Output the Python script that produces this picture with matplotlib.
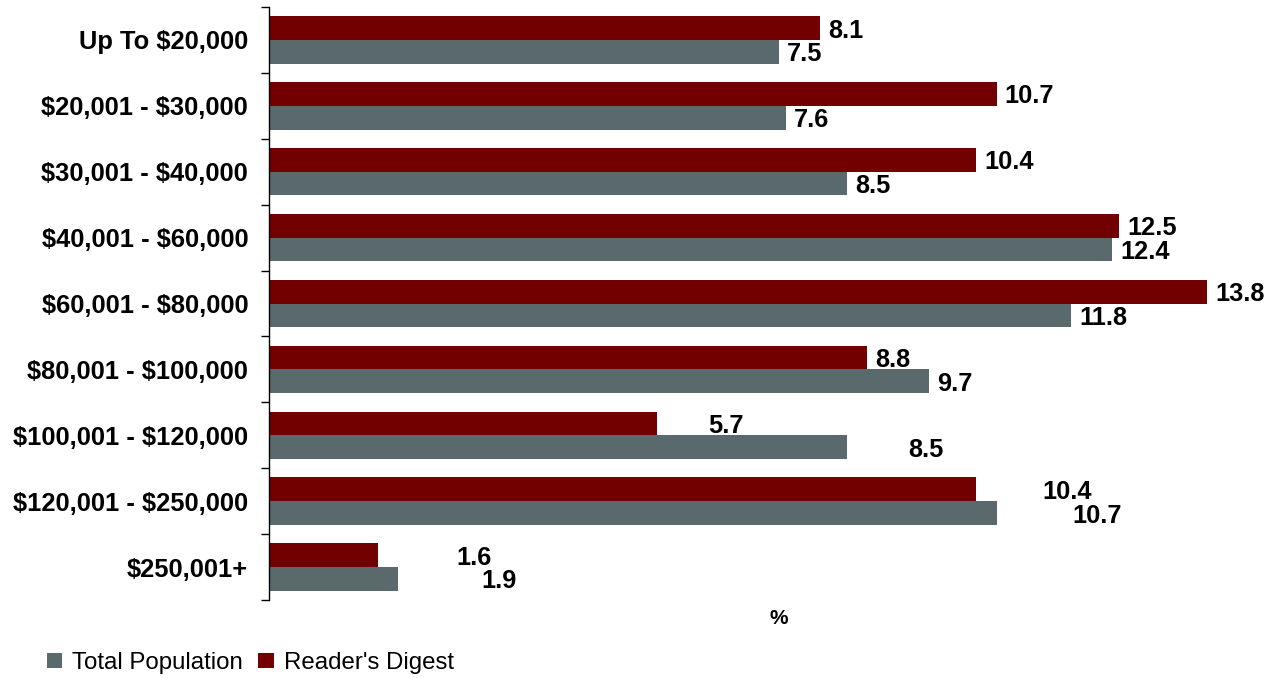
import matplotlib
matplotlib.use('Agg')
import matplotlib.pyplot as plt
import numpy as np

# income bands, top to bottom
categories = [
    "Up To $20,000", "$20,001 - $30,000", "$30,001 - $40,000",
    "$40,001 - $60,000", "$60,001 - $80,000", "$80,001 - $100,000",
    "$100,001 - $120,000", "$120,001 - $250,000", "$250,001+",
]
readers_digest = [8.1, 10.7, 10.4, 12.5, 13.8, 8.8, 5.7, 10.4, 1.6]
total_population = [7.5, 7.6, 8.5, 12.4, 11.8, 9.7, 8.5, 10.7, 1.9]

# gap between bar end and its value label (data units); the bottom rows
# have their labels pushed out further in the original
rd_label_gap = [0.12, 0.12, 0.12, 0.12, 0.12, 0.12, 0.76, 0.98, 1.15]
tp_label_gap = [0.12, 0.12, 0.12, 0.12, 0.12, 0.12, 0.90, 1.11, 1.22]

RED = '#730000'
GREY = '#5A696C'

plt.rcParams['font.family'] = ['Liberation Sans', 'DejaVu Sans']

fig = plt.figure(figsize=(12.83, 6.78), dpi=100)
ax = fig.add_axes([269 / 1283, 1 - 600 / 678, 1003 / 1283, 593 / 678])

y = np.arange(len(categories))
h = 0.36
ax.barh(y - h / 2, readers_digest, height=h, color=RED, label="Reader's Digest")
ax.barh(y + h / 2, total_population, height=h, color=GREY, label='Total Population')

for i in range(len(categories)):
    ax.text(readers_digest[i] + rd_label_gap[i], y[i] - h / 2, f'{readers_digest[i]:.1f}',
            va='center_baseline', ha='left', fontsize=18.3, fontweight='bold')
    ax.text(total_population[i] + tp_label_gap[i], y[i] + h / 2, f'{total_population[i]:.1f}',
            va='center_baseline', ha='left', fontsize=18.3, fontweight='bold')

ax.set_xlim(0, 14.75)
ax.set_ylim(len(categories) - 0.5, -0.5)

# boundary ticks on the spine, labels on the centres
ax.set_yticks(np.arange(len(categories) + 1) - 0.5)
ax.set_yticklabels([])
ax.tick_params(axis='y', which='major', length=5.8, width=1.0, direction='out')
ax.set_yticks(y, minor=True)
ax.set_yticklabels([c.replace('$', r'\$') for c in categories], minor=True,
                   fontsize=18.4, fontweight='bold')
ax.tick_params(axis='y', which='minor', length=0, pad=15)
ax.set_xticks([])

for side in ('top', 'right', 'bottom'):
    ax.spines[side].set_visible(False)
ax.spines['left'].set_linewidth(1.0)

ax.set_xlabel('%', fontsize=15, fontweight='bold')
ax.xaxis.set_label_coords((779 - 269) / 1003, -18 / 593, transform=ax.transAxes)
ax.xaxis.label.set_verticalalignment('center')

handles, labels = ax.get_legend_handles_labels()
fig.legend(handles[::-1], labels[::-1], loc='center left',
           bbox_to_anchor=(47 / 1283, 1 - 663 / 678), ncol=2, frameon=False,
           fontsize=17.3, handlelength=0.64, handleheight=0.64,
           handletextpad=0.42, columnspacing=0.63, borderpad=0,
           borderaxespad=0)

fig.savefig('out.png', dpi=100)
